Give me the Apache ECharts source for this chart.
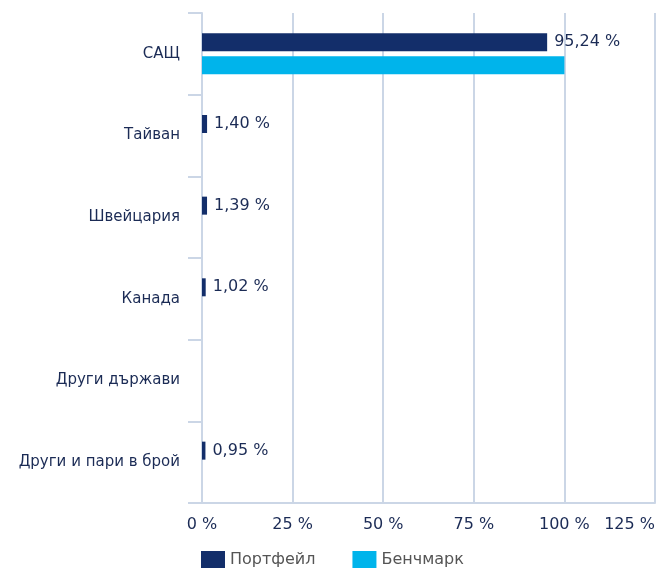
<!DOCTYPE html>
<html>
<head>
<meta charset="utf-8">
<script src="https://cdn.jsdelivr.net/npm/echarts@6/dist/echarts.min.js"></script>
<style>
  html, body { margin: 0; padding: 0; background: #fff; }
  #chart { width: 672px; height: 572px; }
</style>
</head>
<body>
<div id="chart"></div>
<script>
const categories = ["САЩ", "Тайван", "Швейцария", "Канада", "Други държави", "Други и пари в брой"];
const portfolio = [95.24, 1.40, 1.39, 1.02, null, 0.95];
const benchmark = [100, null, null, null, null, null];
const xTicks = [0, 25, 50, 75, 100, 125];

const navy = "#1b2b55";
const lineColor = "#cbd6e6";
const font = "DejaVu Sans";

const fmt = (v) => v.toFixed(2).replace(".", ",") + " %";

const getOption = () => {
  return {
    textStyle: { fontFamily: font },
    legend: {
      left: 196,
      top: 546,
      itemWidth: 24,
      itemHeight: 17,
      itemGap: 37,
      icon: "rect",
      textStyle: { fontSize: 16, color: "#555", fontFamily: font },
      data: ["Портфейл", "Бенчмарк"],
    },
    grid: {
      left: 202,
      right: 17,
      top: 13,
      bottom: 69,
      containLabel: false,
      outerBoundsMode: "none",
    },
    xAxis: {
      type: "value",
      min: xTicks[0],
      max: xTicks[xTicks.length - 1],
      interval: 25,
      axisLine: { show: true, lineStyle: { color: lineColor, width: 2 } },
      axisTick: { show: false },
      splitLine: { show: true, lineStyle: { color: lineColor, width: 2 } },
      axisLabel: {
        fontSize: 16,
        color: navy,
        margin: 14,
        alignMaxLabel: "right",
        formatter: (v) => v + " %",
      },
    },
    yAxis: {
      type: "category",
      inverse: true,
      data: categories,
      axisLine: { show: true, lineStyle: { color: lineColor, width: 2 } },
      axisTick: { show: true, length: 14, lineStyle: { color: lineColor, width: 2 } },
      axisLabel: { fontSize: 15, color: navy, margin: 22, padding: [3, 0, 0, 0] },
    },
    series: [
      {
        name: "Портфейл",
        type: "bar",
        data: portfolio,
        barWidth: 18,
        barGap: "28%",
        itemStyle: { color: "#132e6a" },
        label: {
          show: true,
          position: "right",
          distance: 7,
          fontSize: 16,
          color: navy,
          formatter: (p) => fmt(p.value),
        },
      },
      {
        name: "Бенчмарк",
        type: "bar",
        data: benchmark,
        barWidth: 18,
        itemStyle: { color: "#00b4eb" },
      },
    ],
  };
};

window.addEventListener("load", () => {
  const chart = echarts.init(document.getElementById("chart"));
  chart.setOption(getOption());
});
</script>
</body>
</html>
